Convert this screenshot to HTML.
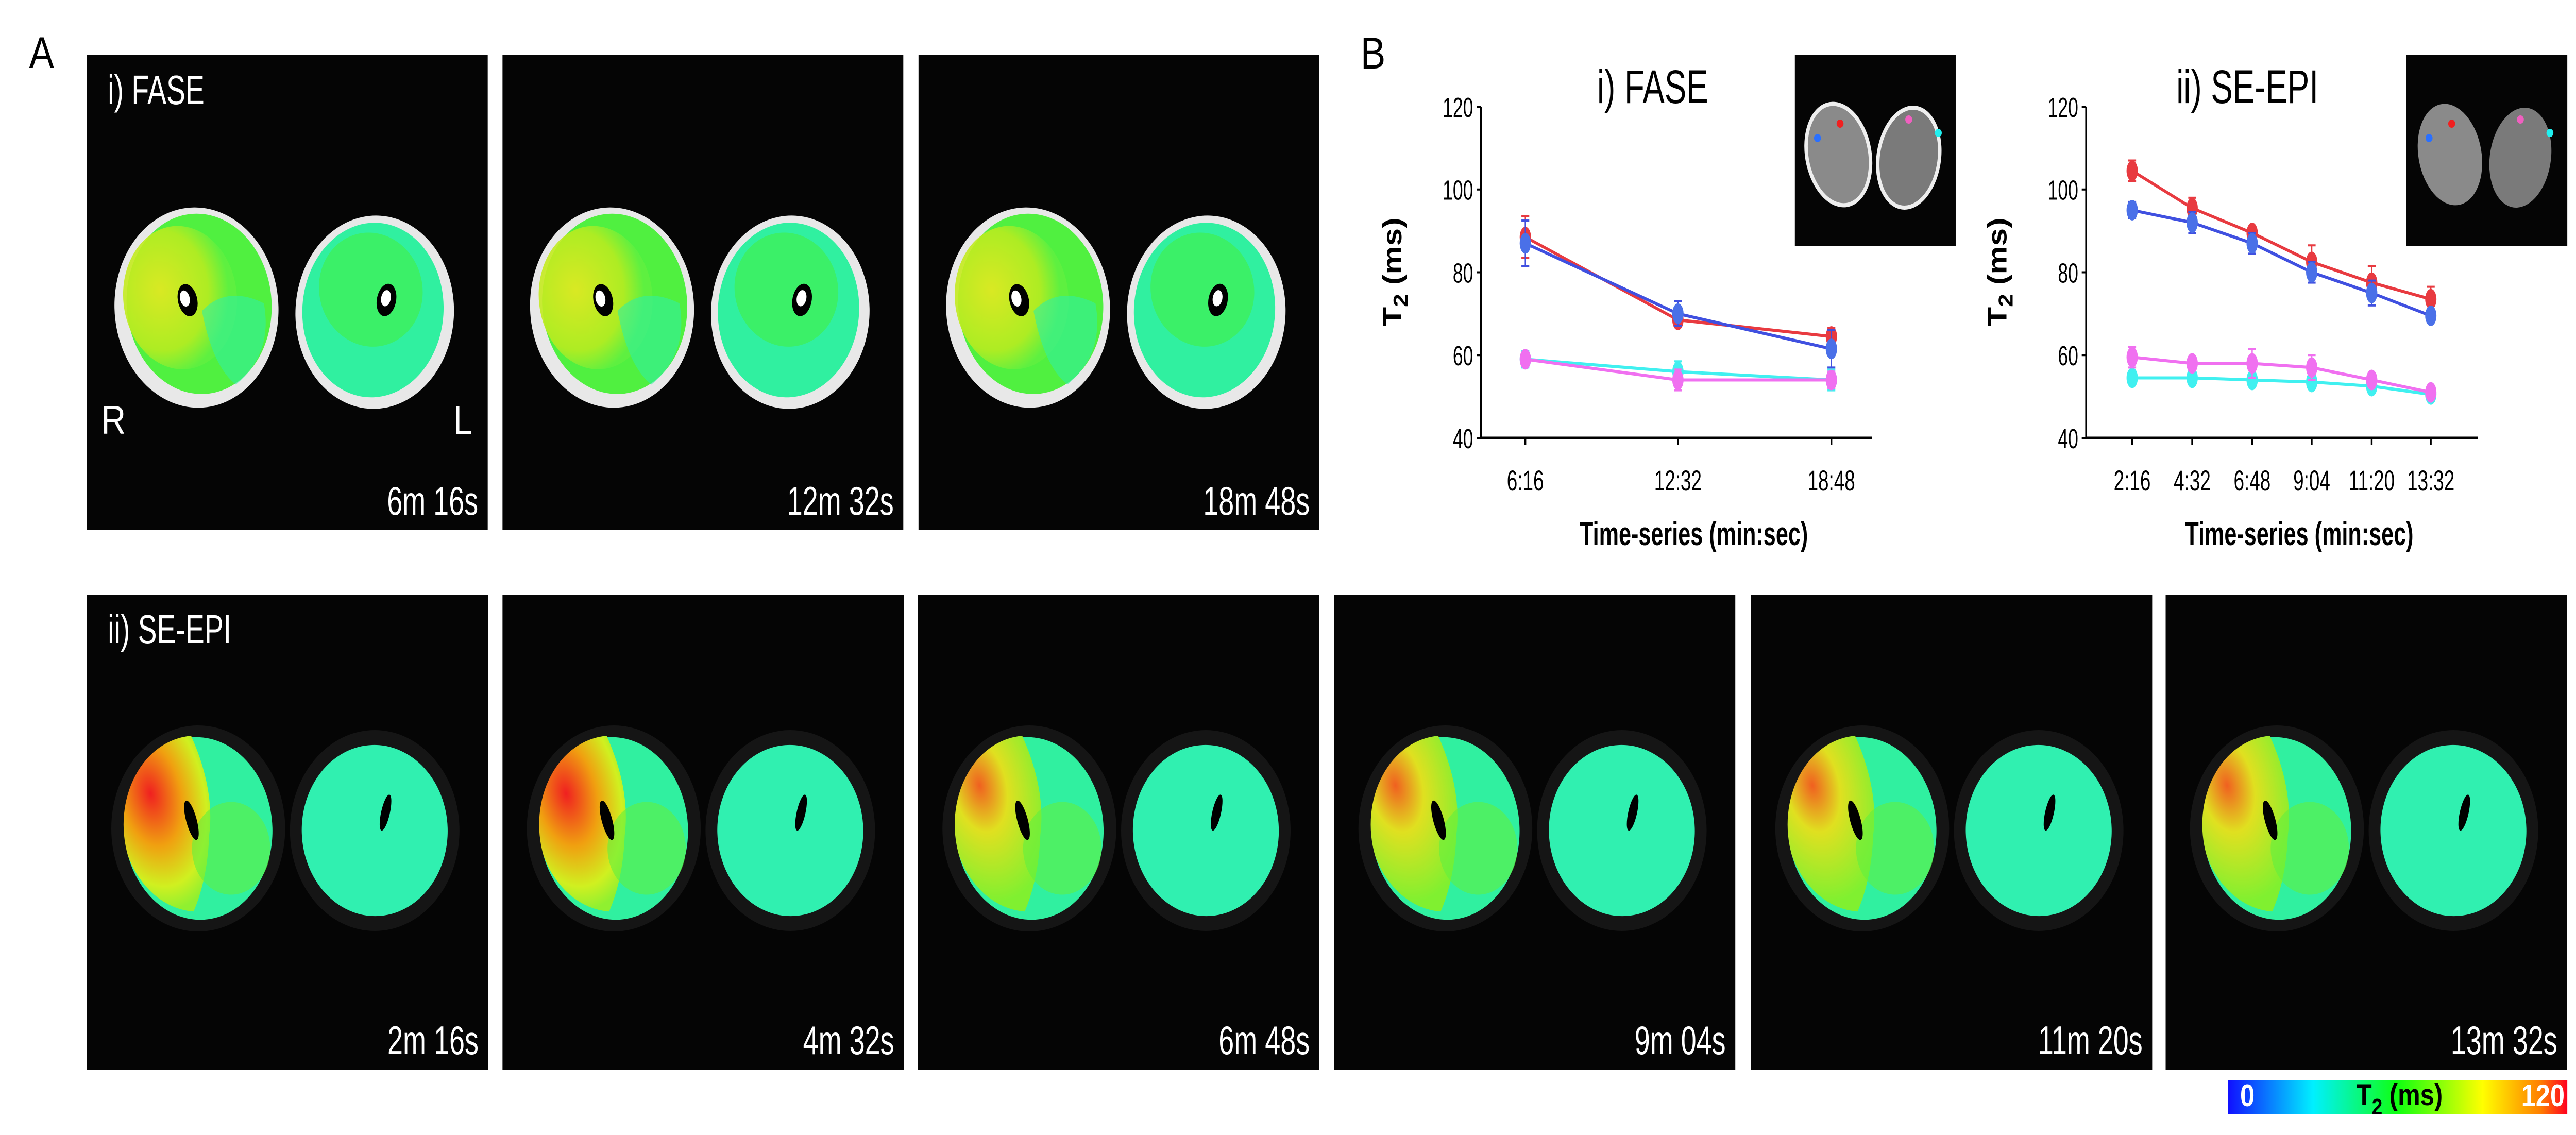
<!DOCTYPE html>
<html><head><meta charset="utf-8">
<style>
html,body{margin:0;padding:0;background:#fff;overflow:hidden;width:100%;height:100%;}
svg{display:block;width:100vw;height:100vh;}
text{font-family:"Liberation Sans",Arial,sans-serif;}
</style></head>
<body>
<svg id="fig" xmlns="http://www.w3.org/2000/svg" viewBox="0 0 5926 2203" preserveAspectRatio="none">
<defs>
  <linearGradient id="cbar" x1="0" x2="1" y1="0" y2="0">
    <stop offset="0" stop-color="#1010ff"/>
    <stop offset="0.25" stop-color="#00f0ff"/>
    <stop offset="0.5" stop-color="#10ff10"/>
    <stop offset="0.75" stop-color="#ffff00"/>
    <stop offset="0.92" stop-color="#ff8000"/>
    <stop offset="1" stop-color="#ff0020"/>
  </linearGradient>
  <radialGradient id="hotFase" cx="0.35" cy="0.4" r="0.6">
    <stop offset="0" stop-color="#e8e820"/><stop offset="0.7" stop-color="#b8ec20"/><stop offset="1" stop-color="#60f040"/>
  </radialGradient>
  <radialGradient id="hotEpi" cx="0.4" cy="0.25" r="0.7">
    <stop offset="0" stop-color="#f02020"/><stop offset="0.45" stop-color="#f0a010"/><stop offset="0.8" stop-color="#d0f020"/><stop offset="1" stop-color="#90f030"/>
  </radialGradient>
  <radialGradient id="warmEpi" cx="0.4" cy="0.2" r="0.7">
    <stop offset="0" stop-color="#f06020"/><stop offset="0.4" stop-color="#e0e020"/><stop offset="1" stop-color="#80f030"/>
  </radialGradient>
</defs>
<g id="root"></g>
</svg>
<script>
// ---------- chart data ----------
const faseCats = ["6:16","12:32","18:48"];
const faseRed = [88.5, 68.5, 64.5];
const faseRedErr = [5, 1.5, 2];
const faseBlue = [87, 70, 61.5];
const faseBlueErr = [5.5, 3, 4.5];
const faseCyan = [59, 56, 54];
const faseCyanErr = [2, 2.5, 2.5];
const faseMag = [59, 54, 54];
const faseMagErr = [1.5, 2.5, 2];

const epiCats = ["2:16","4:32","6:48","9:04","11:20","13:32"];
const epiRed = [104.5, 95.5, 89.5, 82.5, 77.5, 73.5];
const epiRedErr = [2.5, 2.5, 1, 4, 4, 3];
const epiBlue = [95, 92, 87, 80, 75, 69.5];
const epiBlueErr = [2, 2.5, 2.5, 2.5, 3, 1.5];
const epiMag = [59.5, 58, 58, 57, 54, 51];
const epiMagErr = [2.5, 1.5, 3.5, 3, 1, 1];
const epiCyan = [54.5, 54.5, 54, 53.5, 52.5, 50.5];
const epiCyanErr = [1.5, 1.5, 1, 1.5, 1, 1];

const yTicks = [40, 60, 80, 100, 120];

const faseTimes = ["6m 16s","12m 32s","18m 48s"];
const epiTimes = ["2m 16s","4m 32s","6m 48s","9m 04s","11m 20s","13m 32s"];

const NS = "http://www.w3.org/2000/svg";
const root = document.getElementById("root");
function mk(tag, attrs, parent, txt){
  const e = document.createElementNS(NS, tag);
  for (const k in attrs) e.setAttribute(k, attrs[k]);
  if (txt !== undefined) e.textContent = txt;
  (parent || root).appendChild(e);
  return e;
}

// ---------- panel labels ----------
let t;
t = mk("text",{x:67,y:132,"font-size":86,fill:"#000"},root,"A");


t = mk("text",{x:3130,y:133,"font-size":86,fill:"#000"},root,"B");



// ---------- MRI panels ----------
function thighs(g, x0, y0, mode, heat){
  if (mode === 'fase'){
    const L = mk("g",{transform:`translate(${x0+252},${y0+490}) rotate(-18)`},g);
    mk("ellipse",{cx:0,cy:0,rx:188,ry:195,fill:"#e8e8e8"},L);
    mk("ellipse",{cx:8,cy:-5,rx:166,ry:176,fill:"#50f040"},L);
    mk("ellipse",{cx:-30,cy:-30,rx:130,ry:140,fill:heat,opacity:0.9},L);
    mk("path",{d:"M 10 10 Q 80 -20 150 40 Q 140 140 40 170 Q 0 120 10 10 Z",fill:"#30f0a0",opacity:0.6},L);
    mk("ellipse",{cx:-15,cy:-20,rx:22,ry:32,fill:"#000"},L);
    mk("ellipse",{cx:-20,cy:-25,rx:11,ry:16,fill:"#fff"},L);
    const R = mk("g",{transform:`translate(${x0+662},${y0+499}) rotate(15)`},g);
    mk("ellipse",{cx:0,cy:0,rx:182,ry:188,fill:"#e8e8e8"},R);
    mk("ellipse",{cx:-5,cy:-3,rx:162,ry:170,fill:"#30f0a0"},R);
    mk("ellipse",{cx:-20,cy:-40,rx:120,ry:110,fill:"#40f050",opacity:0.7},R);
    mk("ellipse",{cx:20,cy:-30,rx:22,ry:32,fill:"#000"},R);
    mk("ellipse",{cx:18,cy:-33,rx:11,ry:16,fill:"#fff"},R);
  } else {
    mk("ellipse",{cx:x0+256,cy:y0+454,rx:200,ry:200,fill:"#151515"},g);
    mk("ellipse",{cx:x0+662,cy:y0+458,rx:195,ry:195,fill:"#151515"},g);
    const L = mk("g",{transform:`translate(${x0+256},${y0+454}) rotate(-18)`},g);
    mk("ellipse",{cx:0,cy:0,rx:170,ry:178,fill:"#30f0a0"},L);
    mk("path",{d:"M -170 0 A 170 178 0 0 1 40 -176 Q 60 -60 20 20 Q -10 100 -60 150 A 170 178 0 0 1 -170 0 Z",fill:heat},L);
    mk("ellipse",{cx:60,cy:60,rx:90,ry:90,fill:"#60f040",opacity:0.6},L);
    mk("ellipse",{cx:-10,cy:-20,rx:12,ry:40,fill:"#000"},L);
    const R = mk("g",{transform:`translate(${x0+662},${y0+458}) rotate(15)`},g);
    mk("ellipse",{cx:0,cy:0,rx:168,ry:166,fill:"#30f0b0"},R);
    mk("ellipse",{cx:15,cy:-40,rx:10,ry:36,fill:"#000"},R);
  }
}

function panel(x, y, w, h, label, time, mode, heat, idx, first){
  const g = mk("g",{});
  
  
  mk("rect",{x:x,y:y,width:w,height:h,fill:"#050505"},g);
  thighs(g, x, y, mode, heat);
  if (first){
    const lt = mk("text",{x:(x+48)/0.82,y:y+95,"font-size":80,fill:"#fff",transform:"scale(0.82,1)"},g,label);
    
    
  }
  const tt = mk("text",{x:(x+w-22)/0.82,y:y+h-30,"font-size":78,fill:"#fff","text-anchor":"end",transform:"scale(0.82,1)"},g,time);
  
  
  return g;
}

const faseX = [200, 1156, 2113];
for (let i=0;i<3;i++){
  const g = panel(faseX[i],107,922,922,"i) FASE",faseTimes[i],'fase','url(#hotFase)',i,i===0);
  if (i===0){
    const r = mk("text",{x:233,y:842,"font-size":78,fill:"#fff"},g,"R");
    
    
    const l = mk("text",{x:1043,y:842,"font-size":78,fill:"#fff"},g,"L");
    
    
  }
}
const epiX = [200, 1156, 2112, 3069, 4028, 4982];
const epiHeat = ['url(#hotEpi)','url(#hotEpi)','url(#warmEpi)','url(#warmEpi)','url(#warmEpi)','url(#warmEpi)'];
for (let i=0;i<6;i++){
  panel(epiX[i],1154,923,922,"ii) SE-EPI",epiTimes[i],'epi',epiHeat[i],i,i===0);
}

// colorbar
const cb = mk("g",{});


mk("rect",{x:5126,y:2096,width:780,height:66,fill:"url(#cbar)"},cb);
mk("text",{x:5170,y:2147,"font-size":60,fill:"#fff","font-family":"Liberation Serif","font-weight":"bold","text-anchor":"middle"},cb,"0");
const cbt = mk("text",{x:5520,y:2145,"font-size":58,fill:"#000","font-weight":"bold","text-anchor":"middle"},cb);
mk("tspan",{},cbt,"T");
mk("tspan",{dy:18,"font-size":44},cbt,"2");
mk("tspan",{dy:-18},cbt," (ms)");
mk("text",{x:5850,y:2147,"font-size":60,fill:"#fff","font-family":"Liberation Serif","font-weight":"bold","text-anchor":"middle"},cb,"120");

// ---------- charts ----------
const Y0 = 850, Y1 = 207;
function yScale(v){ return Y0 - (v-40)/(120-40)*(Y0-Y1); }

function chart(name, axX, axEnd, tickXs, cats, title, titleX, inset, series){
  const g = mk("g",{});
  
  
  const tt = mk("text",{x:titleX/0.82,y:200,"font-size":92,fill:"#000","text-anchor":"middle",transform:"scale(0.82,1)"},g,title);
  
  
  const ins = mk("g",{},g);
  
  
  mk("rect",{x:inset[0],y:107,width:370,height:370,fill:"#050505"},ins);
  mk("ellipse",{cx:inset[0]+100,cy:300,rx:72,ry:100,fill:"#8a8a8a",stroke:"#eee","stroke-width":inset[1]?8:0,transform:`rotate(-15 ${inset[0]+100} 300)`},ins);
  mk("ellipse",{cx:inset[0]+262,cy:306,rx:70,ry:98,fill:"#7a7a7a",stroke:"#eee","stroke-width":inset[1]?8:0,transform:`rotate(12 ${inset[0]+262} 306)`},ins);
  mk("circle",{cx:inset[0]+52,cy:268,r:8,fill:"#2a70ff"},ins);
  mk("circle",{cx:inset[0]+104,cy:240,r:8,fill:"#f02020"},ins);
  mk("circle",{cx:inset[0]+262,cy:232,r:8,fill:"#f060c0"},ins);
  mk("circle",{cx:inset[0]+330,cy:258,r:8,fill:"#20f0f0"},ins);
  const ax = mk("g",{},g);
  
  
  mk("line",{x1:axX,y1:Y1,x2:axX,y2:Y0+2,stroke:"#000","stroke-width":4},ax);
  mk("line",{x1:axX,y1:Y0,x2:axEnd,y2:Y0,stroke:"#000","stroke-width":5},ax);
  yTicks.forEach(v=>{
    const y = yScale(v);
    mk("line",{x1:axX-10,y1:y,x2:axX,y2:y,stroke:"#000","stroke-width":4},ax);
    const lb = mk("text",{x:(axX-18)/0.78,y:y+20,"font-size":54,fill:"#000","text-anchor":"end",transform:"scale(0.78,1)"},ax,String(v));
    
    
  });
  cats.forEach((c,i)=>{
    const x = tickXs[i];
    mk("line",{x1:x,y1:Y0,x2:x,y2:Y0+14,stroke:"#000","stroke-width":4},ax);
    const lb = mk("text",{x:x/0.78,y:952,"font-size":56,fill:"#000","text-anchor":"middle",transform:"scale(0.78,1)"},ax,c);
    
    
  });
  const xt = mk("text",{x:((axX+axEnd)/2+40)/0.8,y:1058,"font-size":64,"font-weight":"bold",fill:"#000","text-anchor":"middle",transform:"scale(0.8,1)"},ax,"Time-series (min:sec)");
  
  
  const yx = axX-183, yy = 528;
  const yt = mk("text",{x:yx,y:yy,"font-size":62,"font-weight":"bold",fill:"#000","text-anchor":"middle",transform:`rotate(-90 ${yx} ${yy})`},ax);
  
  
  mk("tspan",{},yt,"T");
  mk("tspan",{dy:14,"font-size":46},yt,"2");
  mk("tspan",{dy:-14},yt," (ms)");
  series.forEach(s=>{
    const sg = mk("g",{},g);
    
    
    const pts = s.vals.map((v,i)=>tickXs[i]+","+yScale(v)).join(" ");
    mk("polyline",{points:pts,fill:"none",stroke:s.line,"stroke-width":6},sg);
    s.vals.forEach((v,i)=>{
      const x = tickXs[i], e = s.err[i];
      const yt2 = yScale(v+e), yb = yScale(v-e);
      mk("line",{x1:x,y1:yt2,x2:x,y2:yb,stroke:s.line,"stroke-width":3},sg);
      mk("line",{x1:x-9,y1:yt2,x2:x+9,y2:yt2,stroke:s.line,"stroke-width":4},sg);
      mk("line",{x1:x-9,y1:yb,x2:x+9,y2:yb,stroke:s.line,"stroke-width":4},sg);
      const m = mk("ellipse",{cx:x,cy:yScale(v),rx:13,ry:20,fill:s.dot},sg);
      
      
    });
  });
}

chart("fase-t2-chart", 3407, 4306, [3509,3860,4213], faseCats, "i) FASE", 3802, [4129,true], [
  {name:"cyan", vals:faseCyan, err:faseCyanErr, line:"#40f0f0", dot:"#40f0f0"},
  {name:"magenta", vals:faseMag, err:faseMagErr, line:"#f070f0", dot:"#f070f0"},
  {name:"red", vals:faseRed, err:faseRedErr, line:"#e83a40", dot:"#e83a40"},
  {name:"blue", vals:faseBlue, err:faseBlueErr, line:"#4050e0", dot:"#4a70e8"}
]);
chart("se-epi-t2-chart", 4799, 5700, [4905,5043,5181,5318,5456,5592], epiCats, "ii) SE-EPI", 5170, [5536,false], [
  {name:"cyan", vals:epiCyan, err:epiCyanErr, line:"#40f0f0", dot:"#40f0f0"},
  {name:"magenta", vals:epiMag, err:epiMagErr, line:"#f070f0", dot:"#f070f0"},
  {name:"red", vals:epiRed, err:epiRedErr, line:"#e83a40", dot:"#e83a40"},
  {name:"blue", vals:epiBlue, err:epiBlueErr, line:"#4050e0", dot:"#4a70e8"}
]);
</script>
</body></html>
